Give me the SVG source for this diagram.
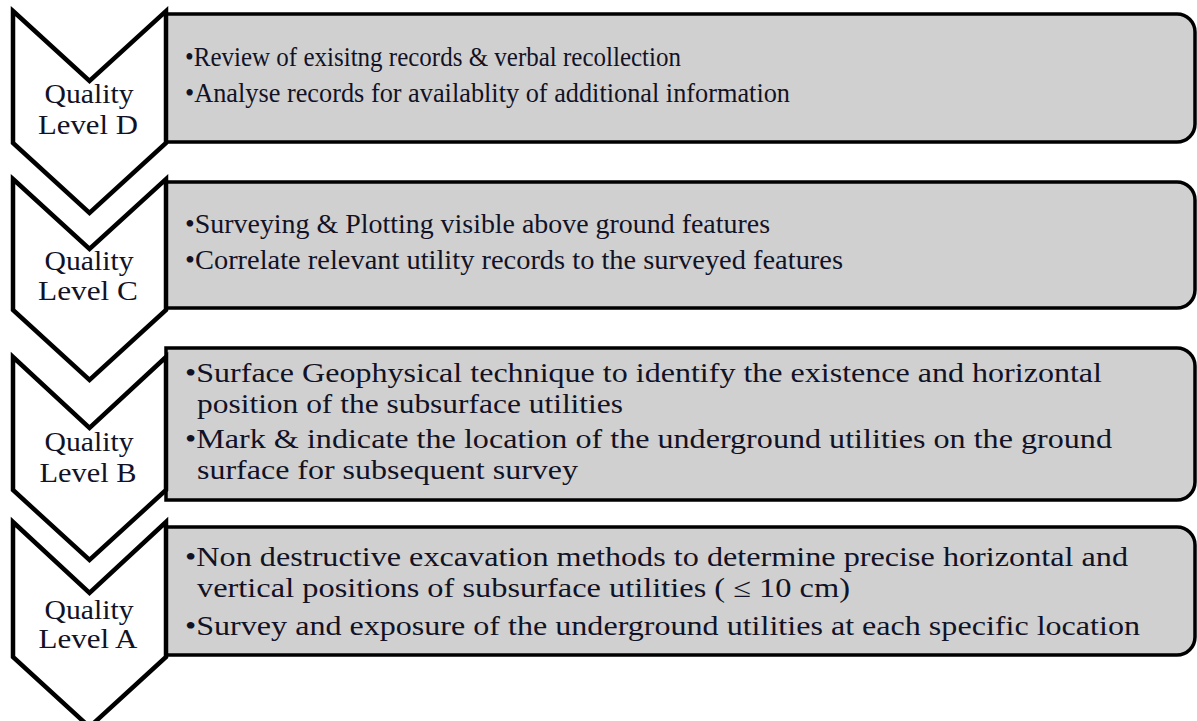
<svg xmlns="http://www.w3.org/2000/svg" width="1197" height="721" viewBox="0 0 1197 721">
<style>
.box{fill:#d0d0d0;stroke:#000;stroke-width:3.5}
.chev{fill:#fff;stroke:#000;stroke-width:4.5;stroke-linejoin:miter}
.lbl{font-family:"Liberation Serif","Times New Roman",serif;font-size:27px;fill:#121226;text-anchor:middle}
.t{font-family:"Liberation Serif","Times New Roman",serif;font-size:27px;fill:#121226}
</style>
<rect width="1197" height="721" fill="#fff"/>
<g id="box-D">
<path class="box" d="M166,14 H1177 A18,18 0 0 1 1195,32 V124 A18,18 0 0 1 1177,142 H166 Z"/>
<text class="t" x="185" y="66" textLength="496" lengthAdjust="spacingAndGlyphs">•Review  of exisitng  records &amp; verbal recollection</text>
<text class="t" x="185" y="102" textLength="605" lengthAdjust="spacingAndGlyphs">•Analyse  records  for availablity  of additional  information</text>
</g>
<g id="box-C">
<path class="box" d="M166,182 H1177 A18,18 0 0 1 1195,200 V290 A18,18 0 0 1 1177,308 H166 Z"/>
<text class="t" x="185" y="233" textLength="585" lengthAdjust="spacingAndGlyphs">•Surveying  &amp; Plotting  visible  above  ground  features</text>
<text class="t" x="185" y="269" textLength="658" lengthAdjust="spacingAndGlyphs">•Correlate  relevant  utility  records  to  the  surveyed  features</text>
</g>
<g id="box-B">
<path class="box" d="M166,348 H1177 A18,18 0 0 1 1195,366 V482 A18,18 0 0 1 1177,500 H166 Z"/>
<text class="t" x="185" y="382" textLength="917" lengthAdjust="spacingAndGlyphs">•Surface  Geophysical  technique  to  identify  the  existence  and  horizontal</text>
<text class="t" x="197" y="413" textLength="426" lengthAdjust="spacingAndGlyphs">position  of the subsurface utilities</text>
<text class="t" x="185" y="448" textLength="927" lengthAdjust="spacingAndGlyphs">•Mark &amp; indicate  the location  of the underground utilities  on the ground</text>
<text class="t" x="197" y="479" textLength="381" lengthAdjust="spacingAndGlyphs">surface  for subsequent survey</text>
</g>
<g id="box-A">
<path class="box" d="M166,527 H1177 A18,18 0 0 1 1195,545 V637 A18,18 0 0 1 1177,655 H166 Z"/>
<text class="t" x="185" y="566" textLength="943" lengthAdjust="spacingAndGlyphs">•Non destructive  excavation  methods to determine precise horizontal  and</text>
<text class="t" x="197" y="597" textLength="653" lengthAdjust="spacingAndGlyphs">vertical  positions  of subsurface  utilities  ( ≤ 10 cm)</text>
<text class="t" x="185" y="635" textLength="955" lengthAdjust="spacingAndGlyphs">•Survey and exposure  of the underground utilities  at each specific  location</text>
</g>
<g id="level-D">
<polygon class="chev" points="13,11 89.5,81 166,11 166,143 89.5,213 13,143"/>
<text class="lbl" x="89" y="103" textLength="89" lengthAdjust="spacingAndGlyphs">Quality</text>
<text class="lbl" x="88" y="134" textLength="100" lengthAdjust="spacingAndGlyphs">Level D</text>
</g>
<g id="level-C">
<polygon class="chev" points="13,179 89.5,249 166,179 166,310 89.5,380 13,310"/>
<text class="lbl" x="89" y="270" textLength="89" lengthAdjust="spacingAndGlyphs">Quality</text>
<text class="lbl" x="88" y="300" textLength="100" lengthAdjust="spacingAndGlyphs">Level C</text>
</g>
<g id="level-B">
<polygon class="chev" points="13,357 89.5,428 166,357 166,490 89.5,560 13,490"/>
<text class="lbl" x="89" y="451" textLength="89" lengthAdjust="spacingAndGlyphs">Quality</text>
<text class="lbl" x="88" y="482" textLength="97" lengthAdjust="spacingAndGlyphs">Level B</text>
</g>
<g id="level-A">
<polygon class="chev" points="13,522 89.5,593 166,522 166,657 89.5,727 13,657"/>
<text class="lbl" x="89" y="619" textLength="89" lengthAdjust="spacingAndGlyphs">Quality</text>
<text class="lbl" x="88" y="648" textLength="99" lengthAdjust="spacingAndGlyphs">Level A</text>
</g>
<g id="connectors"/>
</svg>
